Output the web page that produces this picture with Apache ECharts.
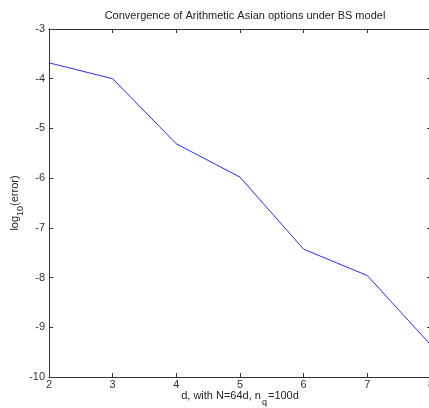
<!DOCTYPE html>
<html>
<head>
<meta charset="utf-8">
<script src="https://cdn.jsdelivr.net/npm/echarts@6/dist/echarts.min.js"></script>
<style>html,body{margin:0;padding:0;background:#fff;}#c{width:429px;height:408px;}</style>
</head>
<body>
<div id="c"></div>
<script>
const dValues = [2, 3, 4, 5, 6, 7, 8];
const logError = [-3.68, -4.0, -5.31, -5.98, -7.43, -7.96, -9.36];
const titleText = 'Convergence of Arithmetic Asian options under BS model';

const chart = echarts.init(document.getElementById('c'), null, {renderer: 'canvas'});
const font = 'Liberation Sans, Arial, Helvetica, sans-serif';
const axisCol = '#333';
const common = {
  axisLine: {show: true, lineStyle: {color: axisCol, width: 1}},
  axisTick: {show: true, inside: true, length: 4, lineStyle: {color: axisCol}},
  splitLine: {show: false}
};
chart.setOption({
  animation: false,
  backgroundColor: '#fff',
  title: {
    text: titleText, left: 240, top: 5, textAlign: 'center',
    textStyle: {fontFamily: font, fontSize: 11, fontWeight: 'normal', color: '#222'}
  },
  grid: {left: 49, top: 29, width: 382, height: 348, containLabel: false, outerBoundsMode: 'none'},
  xAxis: [
    Object.assign({
      type: 'value', min: 2, max: 8, interval: 1, position: 'bottom',
      name: '{a|d, with N=64d, n}{s|q}{a|=100d}', nameLocation: 'middle', nameGap: 13,
      nameMoveOverlap: false,
      nameTextStyle: {
        fontFamily: font, fontSize: 11, color: '#222',
        rich: {
          a: {fontFamily: font, fontSize: 11, color: '#222', lineHeight: 13, verticalAlign: 'top'},
          s: {fontFamily: font, fontSize: 9, color: '#222', lineHeight: 11, verticalAlign: 'top', padding: [8, 1, 0, 1]}
        }
      },
      axisLabel: {margin: 2, fontFamily: font, fontSize: 11, color: '#333'}
    }, common),
    Object.assign({
      type: 'value', min: 2, max: 8, interval: 1, position: 'top',
      axisLabel: {show: false}
    }, common)
  ],
  yAxis: [
    Object.assign({
      type: 'value', min: -10, max: -3, interval: 1, position: 'left',
      name: '{a|log}{s|10}{a|(error)}', nameLocation: 'middle', nameGap: 26, nameRotate: 90,
      nameMoveOverlap: false,
      nameTextStyle: {
        fontFamily: font, fontSize: 11, color: '#222',
        rich: {
          a: {fontFamily: font, fontSize: 11, color: '#222', lineHeight: 14, verticalAlign: 'top'},
          s: {fontFamily: font, fontSize: 9, color: '#222', lineHeight: 14, verticalAlign: 'top', padding: [7, 0, 0, 0]}
        }
      },
      axisLabel: {margin: 4, fontFamily: font, fontSize: 11, color: '#333'}
    }, common),
    Object.assign({
      type: 'value', min: -10, max: -3, interval: 1, position: 'right',
      axisLabel: {show: false}
    }, common)
  ],
  series: [{
    type: 'line',
    data: dValues.map((d, i) => [d, logError[i]]),
    xAxisIndex: 0, yAxisIndex: 0,
    showSymbol: false, symbol: 'none',
    lineStyle: {color: '#2a2aff', width: 1},
    clip: false
  }]
});
</script>
</body>
</html>
